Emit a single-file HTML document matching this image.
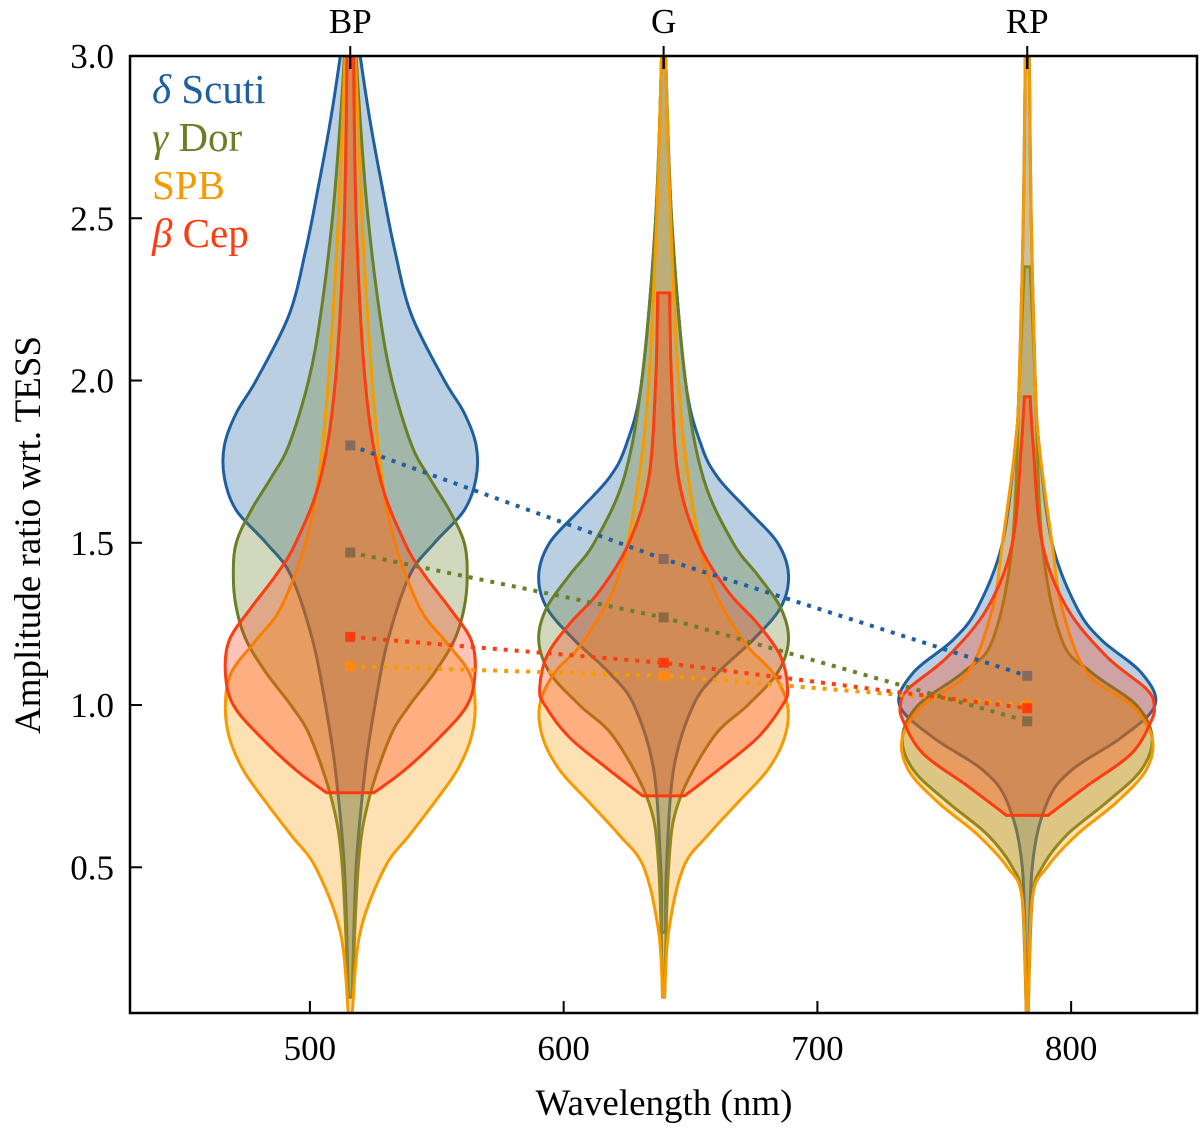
<!DOCTYPE html>
<html><head><meta charset="utf-8">
<style>
html,body{margin:0;padding:0;background:#fff;}
svg{display:block;font-family:"Liberation Serif",serif;}
</style></head>
<body>
<svg id="chart" width="1200" height="1130" viewBox="0 0 1200 1130" xmlns="http://www.w3.org/2000/svg">
<defs><clipPath id="pc"><rect x="130" y="56" width="1067" height="957"/></clipPath></defs>
<g id="violins" clip-path="url(#pc)"></g>
<g id="medians" clip-path="url(#pc)"></g>
<rect x="130" y="56" width="1067" height="957" fill="none" stroke="#000" stroke-width="2.5"/>
<g id="axes"></g>
<text x="664" y="1115" text-anchor="middle" font-size="37">Wavelength (nm)</text>
<text transform="translate(40,535) rotate(-90)" text-anchor="middle" font-size="37">Amplitude ratio wrt. TESS</text>
<g font-size="41">
<text x="152" y="103" fill="#1f5fa0"><tspan font-style="italic">δ</tspan> Scuti</text>
<text x="152" y="151" fill="#6b7f26"><tspan font-style="italic">γ</tspan> Dor</text>
<text x="152" y="199" fill="#f79a00">SPB</text>
<text x="152" y="247" fill="#ff3b10"><tspan font-style="italic">β</tspan> Cep</text>
</g>
</svg>
<script>
const bands = ['BP','G','RP'];
const bandWavelengths = [515.9, 639.4, 782.7];
const seriesNames = ['delta-scuti','gamma-dor','spb','beta-cep'];
const seriesColors = ['#1f5fa0','#6b7f26','#f79a00','#ff3b10'];
const medianColors = ['#8a6a5e','#8a6a40','#ff8a10','#ff3b10'];
// medians per series, per band
const medDelta = [1.80, 1.45, 1.09];
const medGamma = [1.47, 1.27, 0.95];
const medSPB = [1.12, 1.09, 1.00];
const medBeta = [1.21, 1.13, 0.99];
// violin profiles: amplitude values (y) and relative density
const dBP_y = [0.1,0.5,0.8,1.0,1.2,1.4,1.5,1.6,1.7,1.8,1.9,2.0,2.2,2.4,2.6,2.8,3.0,3.1];
const dBP_d = [2,6,15,25,38,60,85,115,127,127,115,95,62,45,32,20,10,6];
const gBP_y = [0.1,0.5,0.7,0.9,1.0,1.1,1.2,1.3,1.4,1.5,1.6,1.7,1.8,2.0,2.2,2.5,2.8,3.1];
const gBP_d = [2,8,18,40,60,85,105,115,118,115,100,80,62,42,30,18,10,4];
const sBP_y = [0.05,0.3,0.5,0.6,0.7,0.8,0.9,1.0,1.1,1.2,1.3,1.5,1.7,2.0,2.5,3.1];
const sBP_d = [2,10,35,60,85,108,122,126,120,95,70,45,32,22,12,4];
const bBP_y = [0.73,0.8,0.9,1.0,1.1,1.2,1.3,1.4,1.5,1.7,2.0,2.5,3.1];
const bBP_d = [24,55,90,118,126,122,100,75,55,30,15,6,3];
const dG_y = [0.3,0.5,0.8,1.0,1.1,1.2,1.3,1.4,1.5,1.6,1.7,1.8,2.0,2.5,3.0];
const dG_d = [2,3,10,30,55,90,118,126,115,85,55,38,22,8,2];
const gG_y = [0.1,0.5,0.7,0.9,1.0,1.1,1.2,1.3,1.4,1.5,1.7,2.0,2.5,3.0];
const gG_d = [1,5,15,50,85,115,126,118,95,70,40,22,8,2];
const sG_y = [0.1,0.3,0.5,0.6,0.7,0.8,0.9,1.0,1.1,1.2,1.4,1.7,2.0,2.5,3.0];
const sG_d = [1,5,20,45,75,105,122,125,110,80,45,25,15,7,2];
const bG_y = [0.72,0.8,0.9,1.0,1.05,1.15,1.25,1.35,1.5,1.7,2.0,2.27];
const bG_d = [21,55,95,120,125,118,95,65,35,15,8,6];
const dRP_y = [0.1,0.5,0.7,0.8,0.9,1.0,1.1,1.2,1.3,1.5,1.8,2.0,2.5,3.0];
const dRP_d = [1,5,20,45,95,129,115,75,50,25,12,8,4,2];
const gRP_y = [0.05,0.4,0.5,0.6,0.7,0.8,0.9,1.0,1.1,1.2,1.5,2.0,2.35];
const gRP_d = [1,5,15,40,80,115,126,110,65,35,15,8,3];
const sRP_y = [0.05,0.4,0.5,0.6,0.7,0.8,0.9,1.0,1.1,1.3,1.5,1.8,2.0,2.5,3.0];
const sRP_d = [1,5,20,50,90,120,126,105,60,35,25,12,8,4,2];
const bRP_y = [0.66,0.75,0.85,0.95,1.0,1.05,1.15,1.3,1.5,1.8,1.95];
const bRP_d = [21,60,105,125,128,120,80,40,15,6,3];
const xTicks = [500,600,700,800];
const yTicks = [0.5,1.0,1.5,2.0,2.5,3.0];

const X0=429.1, X1=849.6, PX0=130, PX1=1197;
const Y0=0.051, Y1=3.0, PY0=1013, PY1=56;
const xs = v => PX0 + (v-X0)/(X1-X0)*(PX1-PX0);
const ys = v => PY0 + (v-Y0)/(Y1-Y0)*(PY1-PY0);
const widthScale = 50/128; // nm per density unit
const NS='http://www.w3.org/2000/svg';

const profiles = [
  [[dBP_y,dBP_d],[dG_y,dG_d],[dRP_y,dRP_d]],
  [[gBP_y,gBP_d],[gG_y,gG_d],[gRP_y,gRP_d]],
  [[sBP_y,sBP_d],[sG_y,sG_d],[sRP_y,sRP_d]],
  [[bBP_y,bBP_d],[bG_y,bG_d],[bRP_y,bRP_d]]
];
const medians = [medDelta, medGamma, medSPB, medBeta];

function smoothPath(pts, start){
  let d = start ? 'M'+pts[0][0].toFixed(1)+','+pts[0][1].toFixed(1) : 'L'+pts[0][0].toFixed(1)+','+pts[0][1].toFixed(1);
  for(let i=0;i<pts.length-1;i++){
    const p0=pts[Math.max(0,i-1)], p1=pts[i], p2=pts[i+1], p3=pts[Math.min(pts.length-1,i+2)];
    const c1=[p1[0]+(p2[0]-p0[0])/6, p1[1]+(p2[1]-p0[1])/6];
    const c2=[p2[0]-(p3[0]-p1[0])/6, p2[1]-(p3[1]-p1[1])/6];
    d+='C'+c1.map(v=>v.toFixed(1)).join(',')+' '+c2.map(v=>v.toFixed(1)).join(',')+' '+p2[0].toFixed(1)+','+p2[1].toFixed(1);
  }
  return d;
}

const vg=document.getElementById('violins');
for(let s=0;s<4;s++){
  for(let b=0;b<3;b++){
    const [yy,dd]=profiles[s][b];
    const c=bandWavelengths[b];
    const right=yy.map((v,i)=>[xs(c+dd[i]*widthScale), ys(v)]);
    const left=yy.map((v,i)=>[xs(c-dd[i]*widthScale), ys(v)]).reverse();
    const d=smoothPath(right,true)+smoothPath(left,false)+'Z';
    const p=document.createElementNS(NS,'path');
    p.setAttribute('d',d);
    p.setAttribute('fill',seriesColors[s]);
    p.setAttribute('fill-opacity','0.3');
    p.setAttribute('stroke',seriesColors[s]);
    p.setAttribute('stroke-width','3');
    
    
    vg.appendChild(p);
  }
}
for(let b=0;b<3;b++){
  const l=document.createElementNS(NS,'line');
  l.setAttribute('x1',xs(bandWavelengths[b]));l.setAttribute('x2',xs(bandWavelengths[b]));
  l.setAttribute('y1',ys(3.0));l.setAttribute('y2',ys(2.96));
  l.setAttribute('stroke','#000');l.setAttribute('stroke-width','2.5');
  
  
  vg.appendChild(l);
}
const mg=document.getElementById('medians');
for(let s=0;s<4;s++){
  const pl=document.createElementNS(NS,'polyline');
  pl.setAttribute('points',medians[s].map((m,b)=>xs(bandWavelengths[b])+','+ys(m)).join(' '));
  pl.setAttribute('fill','none');
  pl.setAttribute('stroke',seriesColors[s]);
  pl.setAttribute('stroke-width','4');
  pl.setAttribute('stroke-dasharray','4 7');
  
  
  mg.appendChild(pl);
  for(let b=0;b<3;b++){
    const r=document.createElementNS(NS,'rect');
    r.setAttribute('x',xs(bandWavelengths[b])-5);r.setAttribute('y',ys(medians[s][b])-5);
    r.setAttribute('width',10);r.setAttribute('height',10);
    r.setAttribute('fill',medianColors[s]);
    
    
    mg.appendChild(r);
  }
}
const ax=document.getElementById('axes');
function mk(tag,attrs,txt){const e=document.createElementNS(NS,tag);for(const k in attrs)e.setAttribute(k,attrs[k]);if(txt!==undefined)e.textContent=txt;ax.appendChild(e);return e;}
xTicks.forEach(t=>{
  const x=xs(t);
  const l=mk('line',{x1:x,x2:x,y1:1013,y2:1001,stroke:'#000','stroke-width':2});
  
  
  const tx=mk('text',{x:x,y:1060,'text-anchor':'middle','font-size':35},String(t));
  
  
});
yTicks.forEach(t=>{
  const y=ys(t);
  const l=mk('line',{x1:130,x2:142,y1:y,y2:y,stroke:'#000','stroke-width':2});
  
  
  const tx=mk('text',{x:114,y:y+12,'text-anchor':'end','font-size':35},t.toFixed(1));
  
  
});
bands.forEach((bn,b)=>{
  const x=xs(bandWavelengths[b]);
  const l=mk('line',{x1:x,x2:x,y1:56,y2:46,stroke:'#000','stroke-width':2});
  
  
  const tx=mk('text',{x:x,y:33,'text-anchor':'middle','font-size':35},bn);
  
  
});
</script>
</body></html>
